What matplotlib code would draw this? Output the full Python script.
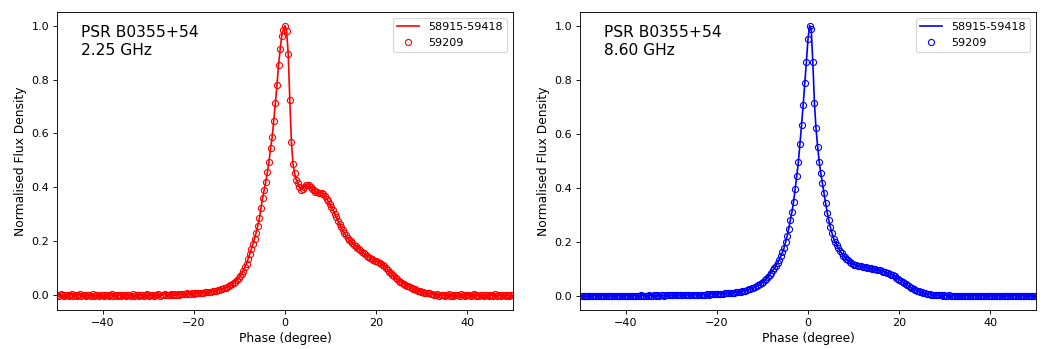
import numpy as np
import matplotlib
matplotlib.use("Agg")
import matplotlib.pyplot as plt

# Pulse phase bins (1024 bins per rotation), bins -142..142 around the peak
bin_width = 360.0 / 1024
bin_index = np.arange(-142, 143)

labels_line = "58915-59418"
labels_pts = "59209"
titles = ["PSR B0355+54\n2.25 GHz", "PSR B0355+54\n8.60 GHz"]

profile_225 = [
    # -50 .. -20 deg
    0.002, -0.003, 0.004, 0.001, -0.002, 0.003, 0.000, -0.004, 0.002, 0.005,
    -0.001, 0.001, -0.003, 0.002, 0.004, -0.002, 0.000, 0.003, -0.004, 0.001,
    0.002, -0.001, 0.004, -0.003, 0.000, 0.002, -0.002, 0.003, 0.001, -0.004,
    0.001, 0.003, -0.002, 0.000, 0.004, -0.001, 0.002, -0.003, 0.001, 0.003,
    -0.002, 0.000, 0.002, -0.004, 0.003, 0.001, -0.001, 0.004, -0.002, 0.002,
    0.000, -0.003, 0.003, 0.001, -0.001, 0.002, 0.004, -0.002, 0.001, 0.003,
    -0.001, 0.002, 0.000, 0.004, -0.002, 0.003, 0.001, 0.005, 0.000, 0.003,
    0.002, 0.005, 0.001, 0.004, 0.003, 0.006, 0.002, 0.005, 0.004, 0.006,
    0.005, 0.007, 0.005, 0.006, 0.007,
    0.006, 0.008, 0.007, 0.009, 0.008, 0.010, 0.009, 0.011,
    # rising edge to peak
    0.011, 0.012, 0.013, 0.014, 0.015, 0.016, 0.017, 0.019, 0.020, 0.022,
    0.024, 0.026, 0.028, 0.031, 0.034, 0.037, 0.041, 0.046, 0.051, 0.057,
    0.064, 0.072, 0.081, 0.092, 0.104, 0.118, 0.135, 0.153, 0.172, 0.192,
    0.210, 0.233, 0.258, 0.285, 0.322, 0.360, 0.390, 0.421, 0.456, 0.496,
    0.545, 0.586, 0.648, 0.713, 0.780, 0.855, 0.913, 0.963, 0.985, 1.000,
    # trailing side
    0.980, 0.895, 0.725, 0.570, 0.486, 0.452, 0.428,
    0.415, 0.400, 0.392, 0.396, 0.402, 0.408, 0.410, 0.408, 0.403, 0.396, 0.389, 0.384, 0.382,
    0.381, 0.380, 0.378, 0.374, 0.367, 0.358, 0.348, 0.337, 0.326, 0.315,
    0.303, 0.290, 0.277, 0.264, 0.252, 0.241, 0.231, 0.222, 0.214, 0.207,
    0.200, 0.194, 0.188, 0.182, 0.177, 0.172, 0.167, 0.162, 0.157, 0.152,
    0.147, 0.143, 0.139, 0.135, 0.131, 0.128, 0.126, 0.124, 0.121, 0.117,
    0.113, 0.108, 0.102, 0.095, 0.088, 0.082, 0.076, 0.070, 0.065, 0.060,
    0.055, 0.051, 0.047, 0.043, 0.039, 0.036, 0.033, 0.030, 0.027, 0.024,
    0.022, 0.020, 0.018, 0.016, 0.014, 0.012, 0.010, 0.009, 0.008, 0.007, 0.006, 0.005,
    # off-pulse
    0.003, 0.001, 0.004, -0.002, 0.002, 0.000, 0.003, -0.003, 0.001, 0.004,
    -0.001, 0.002, -0.003, 0.003, 0.000, 0.002, -0.002, 0.004, 0.001, -0.003,
    0.002, 0.000, 0.003, -0.002, 0.001, 0.004, -0.001, 0.002, -0.004, 0.001,
    0.003, -0.002, 0.000, 0.002, -0.003, 0.003, 0.001, -0.001, 0.004, -0.002,
    0.000, 0.002, -0.003, 0.001, 0.003, -0.001, 0.002, -0.004, 0.001, 0.000,
]

profile_860 = [
    0.001, 0.000, 0.002, 0.001, -0.001, 0.001, 0.002, 0.000, 0.001, 0.002,
    0.000, 0.001, -0.001, 0.002, 0.001, 0.000, 0.002, 0.001, 0.001, 0.000,
    0.002, 0.001, 0.000, 0.002, 0.001, 0.002, 0.000, 0.001, 0.002, 0.001,
    0.002, 0.001,
    0.002, 0.001, 0.002, 0.002, 0.001, 0.002, 0.003, 0.002, 0.002, 0.001,
    0.002, 0.003, 0.002, 0.002, 0.003, 0.002, 0.003, 0.002, 0.003, 0.003,
    0.002, 0.003, 0.003, 0.003, 0.003,
    0.003, 0.004, 0.003, 0.004, 0.004, 0.003, 0.004, 0.004, 0.004, 0.005,
    0.004, 0.004, 0.005, 0.005, 0.005,
    0.005, 0.005, 0.006, 0.005, 0.006, 0.006, 0.006, 0.007, 0.006, 0.007,
    0.007, 0.007, 0.008, 0.008, 0.008, 0.009, 0.009, 0.009, 0.010, 0.010,
    0.011, 0.011, 0.012,
    0.013, 0.013, 0.014, 0.015, 0.016, 0.017, 0.018, 0.020, 0.021, 0.023,
    0.025, 0.027, 0.029, 0.031, 0.034, 0.037, 0.040, 0.044, 0.048, 0.053,
    0.059, 0.065, 0.072, 0.079, 0.087, 0.095, 0.103, 0.113, 0.123, 0.135,
    0.148, 0.162, 0.178, 0.199, 0.222, 0.250, 0.281, 0.312, 0.349, 0.395,
    0.444, 0.497, 0.563, 0.633, 0.707, 0.786, 0.866, 0.950,
    1.000, 0.988, 0.866, 0.715, 0.620, 0.553, 0.497, 0.454, 0.417, 0.380,
    0.343, 0.309, 0.280, 0.254, 0.232, 0.213,
    0.200, 0.188, 0.177, 0.167, 0.158, 0.150, 0.143, 0.137, 0.132, 0.127,
    0.123, 0.120, 0.117, 0.115, 0.113, 0.111, 0.110, 0.108, 0.107, 0.106,
    0.105, 0.104, 0.103, 0.102, 0.101, 0.099, 0.098, 0.096, 0.095, 0.093,
    0.091, 0.089, 0.087, 0.085, 0.083, 0.080, 0.077, 0.073, 0.069, 0.065,
    0.061, 0.057, 0.053, 0.048, 0.044, 0.040, 0.036, 0.032, 0.029, 0.026,
    0.023, 0.020, 0.018, 0.016, 0.014, 0.012, 0.010, 0.009, 0.008, 0.007,
    0.006, 0.005, 0.004, 0.004, 0.003, 0.003,
    0.003, 0.002, 0.003, 0.002, 0.002, 0.003, 0.002, 0.002, 0.001, 0.002,
    0.002, 0.001, 0.002, 0.002, 0.001, 0.002, 0.001, 0.002, 0.001, 0.001,
    0.002, 0.001, 0.000, 0.001, 0.002, 0.001, 0.001, 0.000, 0.002, 0.001,
    0.001, 0.000, 0.001, 0.002, 0.001, 0.000, 0.001, 0.001, 0.000, 0.002,
    0.001, 0.000, 0.001, 0.001, 0.000, 0.001, 0.002, 0.000, 0.001, 0.001,
    0.000, 0.001, 0.001, 0.000, 0.002, 0.001, 0.000, 0.001, 0.001, 0.000,
]

assert len(profile_225) == len(bin_index), len(profile_225)
assert len(profile_860) == len(bin_index), len(profile_860)

phase = bin_index * bin_width

fig = plt.figure(figsize=(1043 / 80, 349 / 80), dpi=80)
ax1 = fig.add_axes([57 / 1043, 1 - 310 / 349, 456 / 1043, 298 / 349])
ax2 = fig.add_axes([580 / 1043, 1 - 310 / 349, 456 / 1043, 298 / 349])

for ax, prof, col, title in [(ax1, profile_225, "red", titles[0]),
                             (ax2, profile_860, "blue", titles[1])]:
    ax.plot(phase, prof, color=col, lw=1.5, label=labels_line)
    ax.plot(phase, prof, ls="none", marker="o", ms=5.5, mfc="none",
            mec=col, mew=1.0, label=labels_pts)
    ax.set_xlim(-50, 50)
    ax.set_xlabel("Phase (degree)", fontsize=11)
    ax.set_ylabel("Normalised Flux Density", fontsize=11)
    ax.tick_params(labelsize=10)
    ax.text(0.052, 0.955, title, transform=ax.transAxes, fontsize=14,
            va="top", ha="left")
    ax.legend(loc="upper right", fontsize=10)

fig.savefig("out.png", dpi=80)
